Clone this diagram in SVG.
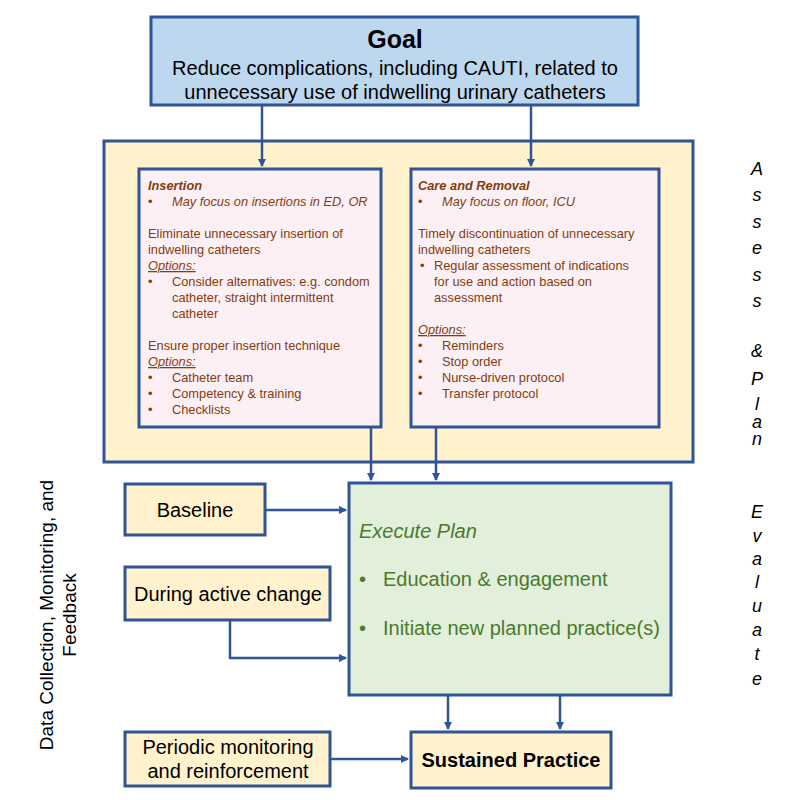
<svg xmlns="http://www.w3.org/2000/svg" width="800" height="800" viewBox="0 0 800 800">
<defs>
<marker id="ah" markerWidth="8" markerHeight="8" refX="7" refY="4" orient="auto" markerUnits="userSpaceOnUse"><path d="M0,0 L8,4 L0,8 z" fill="#2f5597"/></marker>
<style>
text{font-family:"Liberation Sans",Arial,sans-serif}
.b{stroke:#2f5597;stroke-width:3}
.c{stroke:#2f5597;stroke-width:2.5;fill:none;marker-end:url(#ah)}
.s{font-size:12.8px;fill:#843c0c}
.g{font-size:20px;fill:#4a7a2c}
.n{font-size:20px;fill:#000}
.v{font-size:18px;font-style:italic;fill:#000;text-anchor:middle}
</style>
</defs>
<rect width="800" height="800" fill="#fff"/>
<g id="goal"><rect class="b" x="151" y="17" width="487" height="88" fill="#bdd7ee"/>
<text x="395" y="48" text-anchor="middle" font-size="25" font-weight="bold">Goal</text>
<text x="395" y="75" text-anchor="middle" class="n">Reduce complications, including CAUTI, related to</text>
<text x="395" y="99" text-anchor="middle" class="n">unnecessary use of indwelling urinary catheters</text></g>
<g id="assess"><rect class="b" x="104" y="141" width="589" height="321" fill="#fff2cc"/></g>
<g id="insertion"><rect class="b" x="139" y="169" width="242" height="258" fill="#fdf0f5"/>
<text class="s"><tspan x="148" y="190" font-weight="bold" font-style="italic">Insertion</tspan>
<tspan x="148" y="206">•</tspan><tspan x="172" y="206" font-style="italic">May focus on insertions in ED, OR</tspan>
<tspan x="148" y="238">Eliminate unnecessary insertion of</tspan>
<tspan x="148" y="254">indwelling catheters</tspan>
<tspan x="148" y="270" font-style="italic" text-decoration="underline">Options:</tspan>
<tspan x="148" y="286">•</tspan><tspan x="172" y="286">Consider alternatives: e.g. condom</tspan>
<tspan x="172" y="302">catheter, straight intermittent</tspan>
<tspan x="172" y="318">catheter</tspan>
<tspan x="148" y="350">Ensure proper insertion technique</tspan>
<tspan x="148" y="366" font-style="italic" text-decoration="underline">Options:</tspan>
<tspan x="148" y="382">•</tspan><tspan x="172" y="382">Catheter team</tspan>
<tspan x="148" y="398">•</tspan><tspan x="172" y="398">Competency &amp; training</tspan>
<tspan x="148" y="414">•</tspan><tspan x="172" y="414">Checklists</tspan></text></g>
<g id="care"><rect class="b" x="411" y="169" width="248" height="258" fill="#fdf0f5"/>
<text class="s"><tspan x="418" y="190" font-weight="bold" font-style="italic">Care and Removal</tspan>
<tspan x="418" y="206">•</tspan><tspan x="442" y="206" font-style="italic">May focus on floor, ICU</tspan>
<tspan x="418" y="238">Timely discontinuation of unnecessary</tspan>
<tspan x="418" y="254">indwelling catheters</tspan>
<tspan x="420" y="270">•</tspan><tspan x="434" y="270">Regular assessment of indications</tspan>
<tspan x="434" y="286">for use and action based on</tspan>
<tspan x="434" y="302">assessment</tspan>
<tspan x="418" y="334" font-style="italic" text-decoration="underline">Options:</tspan>
<tspan x="418" y="350">•</tspan><tspan x="442" y="350">Reminders</tspan>
<tspan x="418" y="366">•</tspan><tspan x="442" y="366">Stop order</tspan>
<tspan x="418" y="382">•</tspan><tspan x="442" y="382">Nurse-driven protocol</tspan>
<tspan x="418" y="398">•</tspan><tspan x="442" y="398">Transfer protocol</tspan></text></g>
<g id="execute"><rect class="b" x="349" y="483" width="322" height="212" fill="#e2efda"/>
<text x="359" y="538" class="g" font-style="italic">Execute Plan</text>
<text x="359" y="586" class="g">•</text><text x="383" y="586" class="g">Education &amp; engagement</text>
<text x="359" y="635" class="g">•</text><text x="383" y="635" class="g">Initiate new planned practice(s)</text></g>
<g id="baseline"><rect class="b" x="125" y="484" width="140" height="51" fill="#fff2cc"/><text x="195" y="517" text-anchor="middle" class="n">Baseline</text></g>
<g id="during"><rect class="b" x="125" y="567" width="205" height="53" fill="#fff2cc"/><text x="228" y="601" text-anchor="middle" class="n">During active change</text></g>
<g id="periodic"><rect class="b" x="125" y="732" width="205" height="54" fill="#fff2cc"/><text x="228" y="754" text-anchor="middle" class="n">Periodic monitoring</text><text x="228" y="778" text-anchor="middle" class="n">and reinforcement</text></g>
<g id="sustained"><rect class="b" x="411" y="732" width="200" height="56" fill="#fff2cc"/><text x="511" y="767" text-anchor="middle" class="n" font-weight="bold">Sustained Practice</text></g>
<g id="connectors">
<path class="c" d="M262,105 V166"/><path class="c" d="M531,105 V166"/>
<path class="c" d="M371,427 V480"/><path class="c" d="M436,427 V480"/>
<path class="c" d="M265,510 H346"/><path class="c" d="M230,620 V658 H346"/>
<path class="c" d="M330,759 H408"/>
<path class="c" d="M448,695 V729"/><path class="c" d="M560,695 V729"/>
</g>
<g id="labels">
<text class="v"><tspan x="757" y="175">A</tspan><tspan x="757" y="201">s</tspan><tspan x="757" y="228">s</tspan><tspan x="757" y="254">e</tspan><tspan x="757" y="281">s</tspan><tspan x="757" y="307">s</tspan><tspan x="757" y="357">&amp;</tspan><tspan x="757" y="385">P</tspan><tspan x="757" y="410">l</tspan><tspan x="757" y="428">a</tspan><tspan x="757" y="445">n</tspan></text>
<text class="v"><tspan x="757" y="518">E</tspan><tspan x="757" y="542">v</tspan><tspan x="757" y="565">a</tspan><tspan x="757" y="588">l</tspan><tspan x="757" y="612">u</tspan><tspan x="757" y="636">a</tspan><tspan x="757" y="660">t</tspan><tspan x="757" y="685">e</tspan></text>
<text transform="translate(53,615) rotate(-90)" text-anchor="middle" font-size="19">Data Collection, Monitoring, and</text>
<text transform="translate(76,615) rotate(-90)" text-anchor="middle" font-size="19">Feedback</text>
</g>
</svg>
